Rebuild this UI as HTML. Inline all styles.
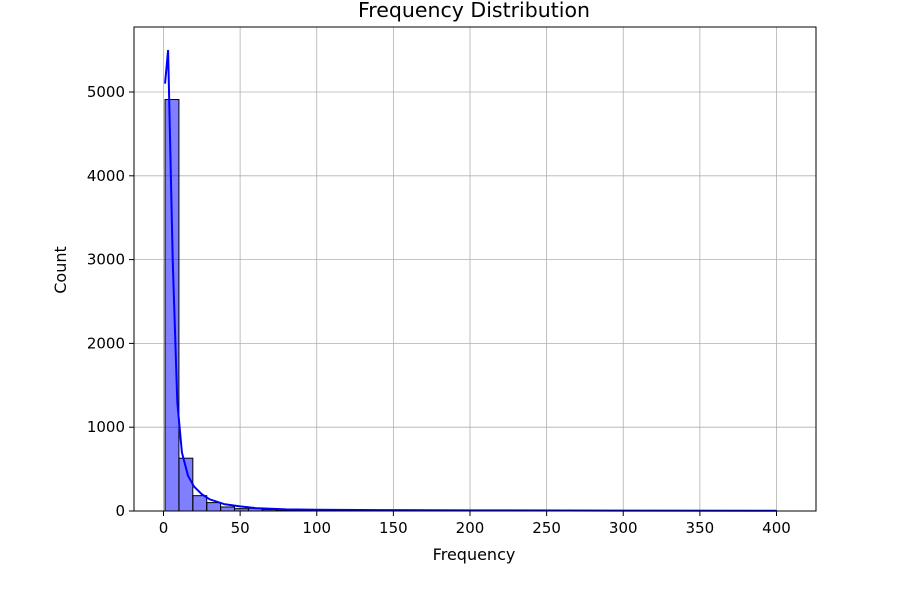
<!DOCTYPE html>
<html><head><meta charset="utf-8"><style>
body{margin:0;background:#fff;font-family:"DejaVu Sans",sans-serif}
svg text{font-family:"DejaVu Sans",sans-serif;fill:#000}
</style></head><body>
<svg id="c" width="907" height="593"></svg>
<script>
const binStart=1, binWidth=9.068;
const counts=[4910,630,183,100,48,28,32,16,11,9,7,6,5,5,4,3,3,2,2,2,2,1,1,1,1,1,1,1,1,1,1,1,1,1,1,1,1,1,1,1,1,1,1,1];
const kdeX=[1,3,6,9,12,16,20,25,30,40,50,60,80,100,150,200,300,400];
const kdeY=[5100,5500,3000,1300,700,420,290,200,140,80,55,35,20,15,10,8,5,3];
const xTicks=[0,50,100,150,200,250,300,350,400];
const yTicks=[0,1000,2000,3000,4000,5000];
const L=134,R=816,T=27,B=511;
const xs=v=>163.5+v*1.5325, ys=v=>B-v*0.0838;
const svg=document.getElementById('c');const NS='http://www.w3.org/2000/svg';
function mk(t,a){const e=document.createElementNS(NS,t);for(const k in a)e.setAttribute(k,a[k]);svg.appendChild(e);return e;}
let e;
xTicks.forEach(v=>{e=mk('line',{x1:xs(v),x2:xs(v),y1:T,y2:B,stroke:'#b0b0b0','stroke-width':0.8});

e=mk('line',{x1:xs(v),x2:xs(v),y1:B,y2:B+5,stroke:'#000'});
e=mk('text',{x:xs(v),y:B+22,'text-anchor':'middle','font-size':15});e.textContent=v;
});
yTicks.forEach(v=>{e=mk('line',{x1:L,x2:R,y1:ys(v),y2:ys(v),stroke:'#b0b0b0','stroke-width':0.8});

mk('line',{x1:L-5,x2:L,y1:ys(v),y2:ys(v),stroke:'#000'});
e=mk('text',{x:L-9,y:ys(v)+5,'text-anchor':'end','font-size':15});e.textContent=v;
});
counts.forEach((c,i)=>{const x0=xs(binStart+i*binWidth),x1=xs(binStart+(i+1)*binWidth);
e=mk('rect',{x:x0,y:ys(c),width:x1-x0,height:B-ys(c),fill:'rgba(0,0,255,0.5)',stroke:'#000','stroke-width':1});
});
e=mk('polyline',{points:kdeX.map((x,i)=>xs(x)+','+ys(kdeY[i])).join(' '),fill:'none',stroke:'#0000ff','stroke-width':2});

e=mk('rect',{x:L,y:T,width:R-L,height:B-T,fill:'none',stroke:'#000','stroke-width':1});

e=mk('text',{x:474,y:17,'text-anchor':'middle','font-size':20.5});e.textContent='Frequency Distribution';

e=mk('text',{x:474,y:560,'text-anchor':'middle','font-size':16});e.textContent='Frequency';

e=mk('text',{x:66,y:270,'text-anchor':'middle','font-size':16,transform:'rotate(-90 66 270)'});e.textContent='Count';

</script></body></html>
